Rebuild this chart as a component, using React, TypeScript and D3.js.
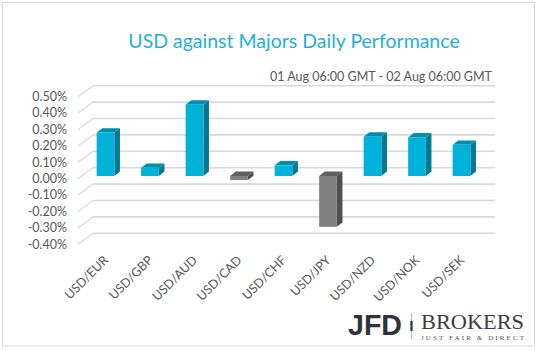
import { useRef, useEffect } from "react";
import * as d3 from "d3";

const categories = ["USD/EUR", "USD/GBP", "USD/AUD", "USD/CAD", "USD/CHF", "USD/JPY", "USD/NZD", "USD/NOK", "USD/SEK"];
// daily change, in percent
const changes = [0.265, 0.05, 0.435, -0.025, 0.065, -0.31, 0.24, 0.235, 0.19];
const yTicks = [-0.4, -0.3, -0.2, -0.1, 0, 0.1, 0.2, 0.3, 0.4, 0.5];

const TITLE = "USD against Majors Daily Performance";
const SUBTITLE = "01 Aug 06:00 GMT - 02 Aug 06:00 GMT";

const C = {
  up: "#00b2da",
  upSide: "#007a93",
  upTop: "#0090ae",
  down: "#808080",
  downSide: "#4f4f4f",
  downTop: "#606060",
  grid: "#d9d9d9",
  text: "#595959",
  title: "#1fb1d9",
  logo: "#30333a",
};

export default function App() {
  const svgRef = useRef<SVGSVGElement>(null);

  useEffect(() => {
    if (!svgRef.current) return;
    const svg = d3.select(svgRef.current);
    svg.selectAll("*").remove();

    const width = 538;
    const height = 351;

    // frame
    svg.append("rect").attr("width", width).attr("height", height).attr("fill", "#fff");
    svg.append("rect")
      .attr("x", 2.5).attr("y", 2.5).attr("width", 532).attr("height", 343.5)
      .attr("fill", "none").attr("stroke", C.grid).attr("stroke-width", 1);

    // title + subtitle
    svg.append("text")
      .attr("x", 294).attr("y", 47.5)
      .attr("text-anchor", "middle")
      .attr("font-family", "Lato, 'Open Sans', sans-serif")
      .attr("font-size", 19.5)
      .attr("fill", C.title)
      .text(TITLE);

    svg.append("text")
      .attr("x", 492).attr("y", 81)
      .attr("text-anchor", "end")
      .attr("font-family", "Lato, 'Open Sans', sans-serif")
      .attr("font-size", 12.5)
      .attr("fill", C.text)
      .text(SUBTITLE);

    // bar front plane scale
    const y = d3.scaleLinear().domain([-0.4, 0.5]).range([241.6, 94]);
    const x = d3.scalePoint<string>().domain(categories).range([105.5, 461.5]);

    const depth = { dx: 15, dy: -11, front: 2.7 }; // floor depth
    const frontX = 78;
    const backX = frontX + depth.dx;
    const gridRight = 495;

    const grid = svg.append("g");
    yTicks.forEach((t) => {
      const yf = y(t) + depth.front;
      const yb = yf + depth.dy;
      grid.append("line")
        .attr("x1", frontX).attr("y1", yf).attr("x2", backX).attr("y2", yb)
        .attr("stroke", C.grid).attr("stroke-width", 1.2);
      grid.append("line")
        .attr("x1", backX).attr("y1", yb).attr("x2", gridRight).attr("y2", yb)
        .attr("stroke", C.grid).attr("stroke-width", 1.6);
    });

    // y labels
    svg.append("g")
      .selectAll("text")
      .data(yTicks)
      .enter()
      .append("text")
      .attr("x", 67)
      .attr("y", (d) => y(d) + depth.front + 4.3)
      .attr("text-anchor", "end")
      .attr("font-family", "Lato, 'Open Sans', sans-serif")
      .attr("font-size", 12.5)
      .attr("fill", C.text)
      .text((d) => `${d < 0 ? "-" : ""}${Math.abs(d).toFixed(2)}%`);

    // 3D bars
    const bw = 17.7;
    const bdx = 5.6;
    const bdy = -4.4;
    const bars = svg.append("g");
    categories.forEach((cat, i) => {
      const v = changes[i];
      const x0 = x(cat)! - bw / 2;
      const yTop = y(Math.max(0, v));
      const yBot = y(Math.min(0, v));
      const neg = v < 0;
      const g = bars.append("g");
      // side
      g.append("path")
        .attr("d", `M${x0 + bw},${yTop} L${x0 + bw + bdx},${yTop + bdy} L${x0 + bw + bdx},${yBot + bdy} L${x0 + bw},${yBot} Z`)
        .attr("fill", neg ? C.downSide : C.upSide);
      // top
      g.append("path")
        .attr("d", `M${x0},${yTop} L${x0 + bdx},${yTop + bdy} L${x0 + bw + bdx},${yTop + bdy} L${x0 + bw},${yTop} Z`)
        .attr("fill", neg ? C.downTop : C.upTop);
      // front
      g.append("rect")
        .attr("x", x0).attr("y", yTop)
        .attr("width", bw).attr("height", yBot - yTop)
        .attr("fill", neg ? C.down : C.up);
      g.append("title").text(`${cat}: ${v}%`);
    });

    // category labels
    svg.append("g")
      .selectAll("text")
      .data(categories)
      .enter()
      .append("text")
      .attr("transform", (d) => `translate(${x(d)! + 3.5},${261}) rotate(-45)`)
      .attr("text-anchor", "end")
      .attr("font-family", "Lato, 'Open Sans', sans-serif")
      .attr("font-size", 12.5)
      .attr("fill", C.text)
      .text((d) => d);

    // logo
    const logo = svg.append("g");
    logo.append("text")
      .attr("x", 348).attr("y", 335)
      .attr("font-family", "'Liberation Sans', Arial, sans-serif")
      .attr("font-weight", "bold")
      .attr("font-size", 30)
      .attr("textLength", 54)
      .attr("lengthAdjust", "spacingAndGlyphs")
      .attr("fill", C.logo)
      .text("JFD");
    logo.append("line")
      .attr("x1", 411.5).attr("y1", 313).attr("x2", 411.5).attr("y2", 339)
      .attr("stroke", "#b8bbbf").attr("stroke-width", 1.2);
    logo.append("line")
      .attr("x1", 411.5).attr("y1", 321).attr("x2", 411.5).attr("y2", 331)
      .attr("stroke", C.logo).attr("stroke-width", 2.2);
    logo.append("text")
      .attr("x", 421).attr("y", 328.5)
      .attr("font-family", "'Liberation Serif', 'DejaVu Serif', serif")
      .attr("font-size", 21)
      .attr("textLength", 103)
      .attr("lengthAdjust", "spacingAndGlyphs")
      .attr("fill", "#3a3d44")
      .text("BROKERS");
    logo.append("text")
      .attr("x", 421).attr("y", 339.5)
      .attr("font-family", "'Liberation Serif', 'DejaVu Serif', serif")
      .attr("font-size", 7)
      .attr("textLength", 103)
      .attr("fill", "#50535a")
      .text("JUST FAIR & DIRECT");
  }, []);

  return (
    <svg
      ref={svgRef}
      width={538}
      height={351}
      style={{ position: "absolute", left: 0, top: 0 }}
    />
  );
}
